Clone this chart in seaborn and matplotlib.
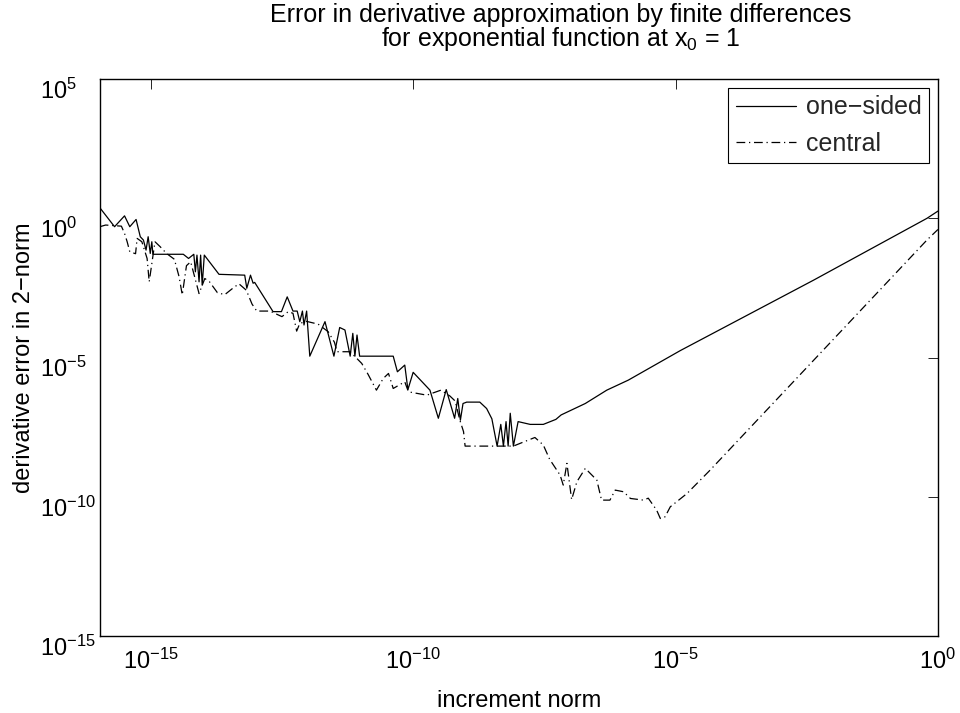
import numpy as np
import pandas as pd
import matplotlib
matplotlib.use("Agg")
import matplotlib.pyplot as plt
from matplotlib.transforms import ScaledTranslation
import seaborn as sns

# ---- data (log10 of values) ----
onesided_log_h = [-15.97, -15.69, -15.50, -15.40, -15.28, -15.20, -15.14, -15.09, -15.05, -15.01,
                  -14.98, -14.96, -14.38, -14.28, -14.18, -14.15, -14.12, -14.08, -14.05, -14.02,
                  -13.98, -13.70, -13.21, -13.17, -13.10, -13.05, -13.02, -12.67, -12.51, -12.40,
                  -12.29, -12.21, -12.16, -12.11, -12.08, -12.03, -11.97, -11.68, -11.51, -11.40,
                  -11.30, -11.20, -11.15, -11.11, -11.07, -11.02, -10.38, -10.30, -10.16, -10.10,
                  -10.00, -9.68, -9.52, -9.37, -9.21, -9.15, -9.10, -9.05, -8.98, -8.73,
                  -8.60, -8.50, -8.40, -8.33, -8.28, -8.23, -8.19, -8.15, -8.09, -8.00,
                  -7.77, -7.52, -7.28, -7.18, -6.72, -6.31, -5.90, -4.91, -2.37, -0.21, 0.0]
onesided_log_err = [0.38, -0.30, 0.09, -0.30, -0.04, -0.66, -0.78, -1.14, -0.66, -1.26,
                    -0.84, -1.29, -1.29, -1.44, -1.29, -1.92, -1.32, -2.28, -1.32, -2.40,
                    -1.32, -2.01, -2.04, -2.51, -2.04, -2.33, -2.30, -3.35, -3.35, -2.82,
                    -3.33, -3.33, -3.71, -3.33, -3.83, -3.33, -4.95, -3.71, -4.95, -3.92,
                    -4.01, -4.95, -4.13, -4.95, -4.19, -4.95, -4.95, -5.51, -5.27, -6.15,
                    -5.53, -6.17, -7.18, -6.15, -7.18, -6.47, -7.25, -6.65, -6.60, -6.60,
                    -6.83, -7.20, -8.18, -7.40, -8.18, -7.30, -8.18, -7.00, -8.18, -7.30,
                    -7.40, -7.40, -7.22, -7.06, -6.65, -6.17, -5.81, -4.75, -2.22, 0.00, 0.26]

central_log_h = [-15.97, -15.86, -15.56, -15.50, -15.45, -15.40, -15.29, -15.26, -15.17, -15.07,
                 -15.03, -14.92, -14.82, -14.70, -14.55, -14.46, -14.40, -14.32, -14.24, -14.08,
                 -13.97, -13.88, -13.73, -13.59, -13.43, -13.32, -13.18, -13.07, -12.98, -12.73,
                 -12.50, -12.38, -12.29, -12.22, -12.16, -12.03, -11.81, -11.62, -11.50, -11.45,
                 -11.20, -10.98, -10.86, -10.70, -10.57, -10.47, -10.38, -10.16, -10.09, -9.74,
                 -9.47, -9.30, -9.20, -9.11, -9.04, -9.01, -8.09, -7.96, -7.68, -7.52,
                 -7.40, -7.33, -7.20, -7.14, -7.07, -6.98, -6.88, -6.72, -6.50, -6.41,
                 -6.25, -6.15, -5.99, -5.86, -5.61, -5.52, -5.36, -5.29, -5.20, -5.10,
                 -4.98, -4.78, -4.34, -2.50, -0.21, 0.0]
central_log_err = [-0.30, -0.24, -0.28, -0.54, -0.84, -1.20, -1.27, -0.72, -0.84, -1.44,
                   -2.28, -0.84, -1.02, -1.26, -1.47, -2.10, -2.75, -1.70, -1.56, -2.70,
                   -2.16, -2.28, -2.67, -2.74, -2.50, -2.35, -2.58, -3.08, -3.33, -3.33,
                   -3.53, -3.35, -3.41, -4.05, -3.77, -3.70, -3.80, -4.07, -4.45, -4.79,
                   -4.79, -5.21, -5.60, -6.17, -5.75, -5.57, -6.11, -5.87, -6.23, -6.35,
                   -6.17, -6.38, -6.56, -7.25, -7.66, -8.18, -8.18, -8.08, -7.87, -8.14,
                   -8.65, -8.85, -9.22, -9.58, -8.80, -10.10, -9.46, -8.98, -9.40, -10.12,
                   -10.12, -9.76, -9.82, -10.06, -10.12, -10.05, -10.48, -10.78, -10.72, -10.36,
                   -10.18, -9.88, -9.04, -5.36, -0.78, -0.40]

series_names = ["one\u2212sided", "central"]

title_text = "Error in derivative approximation by finite differences\nfor exponential function at $x_0$ = 1"
xlabel_text = "increment norm"
ylabel_text = "derivative error in 2\u2212norm"
xticks = [1e-15, 1e-10, 1e-5, 1e0]
yticks = [1e-15, 1e-10, 1e-5, 1e0, 1e5]

# ---- build table ----
df = pd.concat([
    pd.DataFrame({"h": np.power(10.0, onesided_log_h), "err": np.power(10.0, onesided_log_err),
                  "method": series_names[0]}),
    pd.DataFrame({"h": np.power(10.0, central_log_h), "err": np.power(10.0, central_log_err),
                  "method": series_names[1]}),
], ignore_index=True)

sns.set_theme(style="white")
plt.rcParams["font.family"] = ["Liberation Sans", "DejaVu Sans"]
plt.rcParams["mathtext.fontset"] = "custom"
plt.rcParams["mathtext.rm"] = "Liberation Sans"
plt.rcParams["mathtext.it"] = "Liberation Sans"
plt.rcParams["axes.unicode_minus"] = True

FS = 17
fig = plt.figure(figsize=(9.6, 7.13), dpi=100)
ax = fig.add_axes([0.104, 0.108, 0.873, 0.781])

sns.lineplot(data=df, x="h", y="err", hue="method", style="method",
             palette={series_names[0]: "black", series_names[1]: "black"},
             dashes={series_names[0]: "", series_names[1]: (7, 3, 1, 3)},
             sort=False, estimator=None, linewidth=0.9, ax=ax, legend=True)

ax.set_xscale("log")
ax.set_yscale("log")
ax.set_xlim(1.07e-16, 1.0)
ax.set_ylim(1e-15, 1e5)
ax.set_xticks(xticks)
ax.set_yticks(yticks)
ax.minorticks_off()
ax.tick_params(axis="both", which="major", direction="in", length=7, width=0.6,
               top=True, right=True, labelsize=FS, colors="black")
ax.tick_params(axis="x", pad=9)
ax.tick_params(axis="y", pad=43)
for lab in ax.get_yticklabels():
    lab.set_horizontalalignment("left")
    lab.set_transform(lab.get_transform() + ScaledTranslation(0, -7 / 72, fig.dpi_scale_trans))
for s in ax.spines.values():
    s.set_color("black")
    s.set_linewidth(1.0)

ax.set_xlabel(xlabel_text, fontsize=FS, color="black", labelpad=12)
ax.set_ylabel(ylabel_text, fontsize=FS, color="black", labelpad=4)
ax.set_title(title_text, fontsize=18, color="black", linespacing=0.9, pad=24, x=0.55)

h, l = ax.get_legend_handles_labels()
leg = ax.legend(h, l, loc="upper right", fontsize=18, frameon=True, fancybox=False,
                framealpha=1, edgecolor="black", handlelength=2.4, borderpad=0.3,
                labelspacing=0.5, handletextpad=0.4, borderaxespad=0.35)
leg.get_frame().set_linewidth(0.8)

fig.savefig("out.png", dpi=100)
